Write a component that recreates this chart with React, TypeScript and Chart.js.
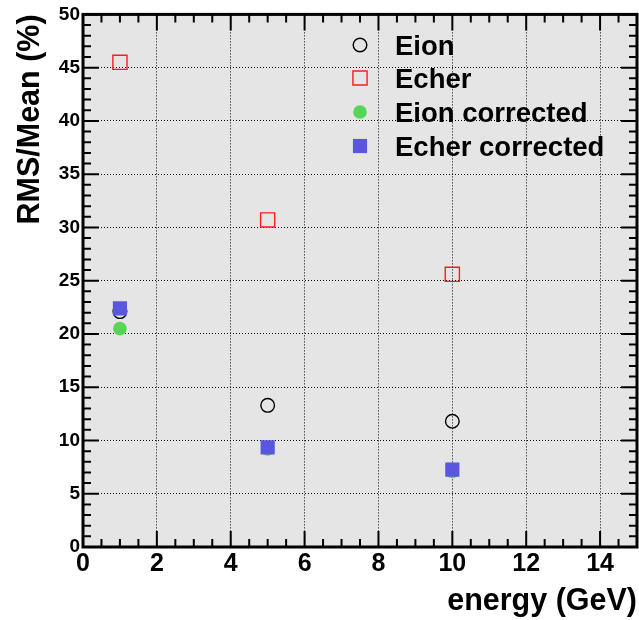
import React, { useEffect, useRef } from 'react';
import { Chart, registerables } from 'chart.js';

Chart.register(...registerables);

// ---- data ----
const energies = [1, 5, 10];
const eionValues = [22.1, 13.3, 11.8];
const echerValues = [45.5, 30.7, 25.6];
const eionCorrectedValues = [20.5, 9.2, 7.1];
const echerCorrectedValues = [22.4, 9.35, 7.26];
const seriesLabels = ['Eion', 'Echer', 'Eion corrected', 'Echer corrected'];
const xTitle = 'energy (GeV)';
const yTitle = 'RMS/Mean (%)';
const xRange = [0, 15];
const yRange = [0, 50];
const xMajorStep = 2;
const xMinorStep = 0.5;
const yMajorStep = 5;
const yMinorStep = 1;

const FONT = '"Liberation Sans", Arial, Helvetica, sans-serif';

const toPoints = (ys: number[]) => energies.map((x, i) => ({ x, y: ys[i] }));

const rootFramePlugin = {
  id: 'rootFrame',
  beforeDraw(chart: any) {
    const { ctx, chartArea: a } = chart;
    ctx.save();
    ctx.fillStyle = '#ffffff';
    ctx.fillRect(0, 0, chart.width, chart.height);
    ctx.fillStyle = '#e5e5e5';
    ctx.fillRect(a.left, a.top, a.right - a.left, a.bottom - a.top);
    ctx.restore();
  },
  beforeDatasetsDraw(chart: any) {
    const { ctx, chartArea: a, scales } = chart;
    const xs = scales.x;
    const ys = scales.y;
    ctx.save();
    ctx.strokeStyle = '#000';
    ctx.lineWidth = 2;
    ctx.beginPath();
    const nx = Math.round((xRange[1] - xRange[0]) / xMinorStep);
    for (let i = 0; i <= nx; i++) {
      const v = xRange[0] + i * xMinorStep;
      const px = xs.getPixelForValue(v);
      const major = Math.abs(v / xMajorStep - Math.round(v / xMajorStep)) < 1e-6;
      const len = major ? 16 : 8;
      ctx.moveTo(px, a.bottom);
      ctx.lineTo(px, a.bottom - len);
      ctx.moveTo(px, a.top);
      ctx.lineTo(px, a.top + len);
    }
    const ny = Math.round((yRange[1] - yRange[0]) / yMinorStep);
    for (let i = 0; i <= ny; i++) {
      const v = yRange[0] + i * yMinorStep;
      const py = ys.getPixelForValue(v);
      const major = Math.abs(v / yMajorStep - Math.round(v / yMajorStep)) < 1e-6;
      const len = major ? 16 : 8;
      ctx.moveTo(a.left, py);
      ctx.lineTo(a.left + len, py);
      ctx.moveTo(a.right, py);
      ctx.lineTo(a.right - len, py);
    }
    ctx.stroke();
    ctx.lineWidth = 3;
    ctx.strokeRect(a.left, a.top, a.right - a.left, a.bottom - a.top);
    ctx.restore();
  },
  afterDraw(chart: any) {
    const { ctx } = chart;
    const mx = 360;
    const tx = 395;
    const rows = [45, 78, 112, 146];
    ctx.save();
    ctx.font = `bold 27.5px ${FONT}`;
    ctx.fillStyle = '#000';
    ctx.textAlign = 'left';
    ctx.textBaseline = 'alphabetic';
    chart.data.datasets.forEach((ds: any, i: number) => {
      const cy = rows[i];
      const r = ds.pointRadius;
      ctx.beginPath();
      if (ds.pointStyle === 'rect') {
        const h = r * Math.SQRT1_2;
        ctx.rect(mx - h, cy - h, 2 * h, 2 * h);
      } else {
        ctx.arc(mx, cy, r, 0, Math.PI * 2);
      }
      if (ds.backgroundColor && ds.backgroundColor !== 'transparent') {
        ctx.fillStyle = ds.backgroundColor;
        ctx.fill();
      }
      if (ds.borderWidth > 0) {
        ctx.strokeStyle = ds.borderColor;
        ctx.lineWidth = ds.borderWidth;
        ctx.stroke();
      }
      ctx.fillStyle = '#000';
      ctx.fillText(ds.label, tx, cy + 10);
    });
    ctx.restore();
  },
};

export default function App() {
  const ref = useRef<HTMLCanvasElement>(null);
  useEffect(() => {
    if (!ref.current) return;
    const chart = new Chart(ref.current, {
      type: 'scatter',
      data: {
        datasets: [
          {
            label: seriesLabels[0],
            data: toPoints(eionValues),
            pointStyle: 'circle',
            pointRadius: 6.8,
            backgroundColor: 'transparent',
            borderColor: '#000000',
            borderWidth: 1.4,
            order: 3,
          },
          {
            label: seriesLabels[1],
            data: toPoints(echerValues),
            pointStyle: 'rect',
            pointRadius: 10,
            backgroundColor: 'transparent',
            borderColor: '#ff1a1a',
            borderWidth: 1.4,
            order: 2,
          },
          {
            label: seriesLabels[2],
            data: toPoints(eionCorrectedValues),
            pointStyle: 'circle',
            pointRadius: 6.8,
            backgroundColor: 'rgb(86,214,86)',
            borderColor: 'rgb(86,214,86)',
            borderWidth: 0,
            order: 1,
          },
          {
            label: seriesLabels[3],
            data: toPoints(echerCorrectedValues),
            pointStyle: 'rect',
            pointRadius: 10,
            backgroundColor: 'rgb(90,86,222)',
            borderColor: 'rgb(90,86,222)',
            borderWidth: 0,
            order: 0,
          },
        ] as any,
      },
      options: {
        animation: false,
        responsive: false,
        events: [],
        layout: { padding: { top: 11, right: 2, left: 0, bottom: 0 }, autoPadding: false },
        plugins: { legend: { display: false }, tooltip: { enabled: false } },
        scales: {
          x: {
            type: 'linear',
            min: xRange[0],
            max: xRange[1],
            afterFit: (s: any) => { s.height = 73; },
            ticks: {
              stepSize: xMajorStep,
              includeBounds: false,
              padding: 2,
              color: '#000',
              font: { family: FONT, weight: 'bold', size: 25 },
            },
            grid: { color: '#000', lineWidth: 1, drawTicks: false },
            border: { display: false, dash: [1, 2] },
            title: {
              display: true,
              text: xTitle,
              align: 'end',
              color: '#000',
              padding: { top: 0, bottom: 0 },
              font: { family: FONT, weight: 'bold', size: 30.5, lineHeight: 1.2 },
            },
          },
          y: {
            type: 'linear',
            min: yRange[0],
            max: yRange[1],
            afterFit: (s: any) => { s.width = 83; },
            ticks: {
              stepSize: yMajorStep,
              includeBounds: false,
              padding: 3,
              color: '#000',
              font: { family: FONT, weight: 'bold', size: 19 },
            },
            grid: { color: '#000', lineWidth: 1, drawTicks: false },
            border: { display: false, dash: [1, 2] },
            title: {
              display: true,
              text: yTitle,
              align: 'end',
              color: '#000',
              padding: { top: 12, bottom: 0 },
              font: { family: FONT, weight: 'bold', size: 30.5, lineHeight: 1.2 },
            },
          },
        },
      } as any,
      plugins: [rootFramePlugin],
    });
    return () => chart.destroy();
  }, []);
  return (
    <div style={{ position: 'absolute', left: 0, top: 0, width: 639, height: 620, background: '#fff' }}>
      <canvas ref={ref} width={639} height={620} style={{ display: 'block' }} />
    </div>
  );
}
